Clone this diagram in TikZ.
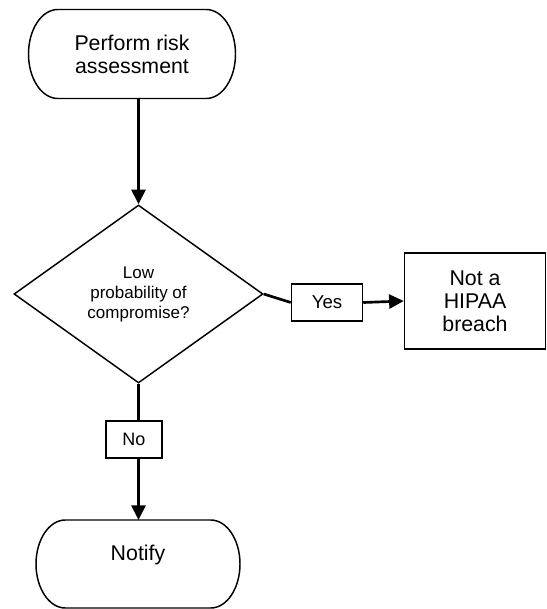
\documentclass[tikz,border=0pt]{standalone}
\usepackage{fontspec}
\setmainfont{Liberation Sans}
\usepackage{tikz}
\usetikzlibrary{shapes,arrows,positioning,shapes.geometric,arrows.meta}
\tikzstyle{terminal} = [rectangle, outer sep=0pt, align=center,
    font=\fontsize{16}{17.25}\selectfont]
\tikzstyle{decision} = [diamond, draw, line width=1.1pt, inner sep=0pt, align=center,
    font=\fontsize{12.75}{15}\selectfont]
\tikzstyle{block} = [rectangle, draw, line width=1.1pt, align=center,
    font=\fontsize{16}{17.25}\selectfont]
\tikzstyle{answer} = [rectangle, draw, line width=1.1pt, inner sep=0pt]
\tikzstyle{line} = [draw, line width=2pt]
\tikzstyle{arrow} = [line, -{Triangle[length=11pt, width=10.5pt]}]
% outline of a terminal node, with half-elliptic ends
\newcommand{\stadiumof}[2]{
    \draw[line width=1.1pt] ([xshift=22pt]#1.north west) -- ([xshift=-22pt]#1.north east)
        arc[start angle=90, end angle=-90, x radius=22pt, y radius=#2]
        -- ([xshift=22pt]#1.south west)
        arc[start angle=270, end angle=90, x radius=22pt, y radius=#2] -- cycle;
}

\begin{document}
\begin{tikzpicture}[x=0.75pt, y=-0.75pt]
        \useasboundingbox (0,0) rectangle (546,609);

        \node[terminal, minimum width=155.25pt, minimum height=66.75pt] (assess) at (132,54) {
            Perform risk\\assessment
        };
        \stadiumof{assess}{33.375pt}

        \node[decision, minimum width=186.75pt, minimum height=133.5pt] (lowprob) at (138.5,294) {
            Low\\probability of\\compromise?
        };

        \node[answer, minimum width=53.25pt, minimum height=27.75pt,
            font=\fontsize{14}{16}\selectfont] (yes) at (327,302.5) {Yes};
        \node[block, minimum width=105.75pt, minimum height=72pt] (nobreach) at (475,301) {
            Not a\\HIPAA\\breach
        };

        \node[answer, minimum width=42pt, minimum height=27.75pt,
            font=\fontsize{13.5}{16}\selectfont] (no) at (134,439.5) {No};
        \node[terminal, minimum width=153pt, minimum height=66pt] (notify) at (138,564) {
            Notify\\\mbox{}
        };
        \stadiumof{notify}{33pt}

        \draw[arrow] (assess.south -| lowprob.north) -- (lowprob.north);
        \draw[line] (lowprob.east) -- (yes.west);
        \draw[arrow] (yes.east) -- (nobreach.west);
        \draw[line] (lowprob.south) -- (lowprob.south |- no.north);
        \draw[arrow] (lowprob.south |- no.south) -- (lowprob.south |- notify.north);
    \end{tikzpicture}
\end{document}
